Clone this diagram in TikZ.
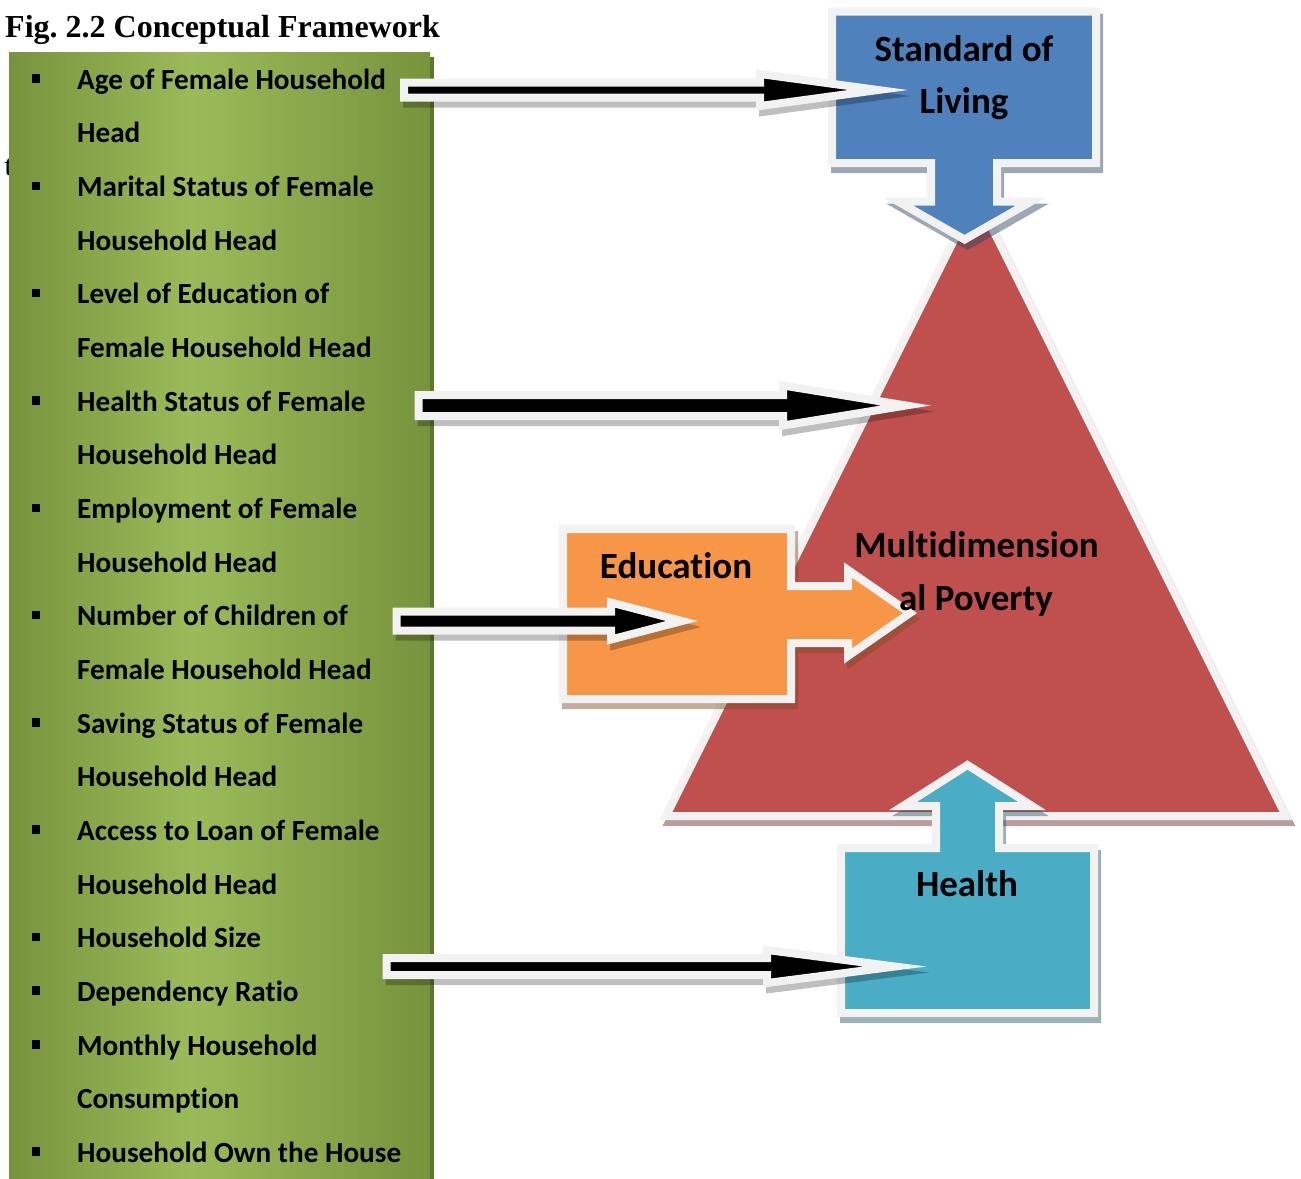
\documentclass[tikz,border=0pt]{standalone}
\usepackage{fontspec}
\setmainfont{Carlito}[Ligatures=NoCommon]
\newfontfamily\serifhead{Liberation Serif}
\usetikzlibrary{calc}
\frenchspacing

\definecolor{olivedark}{HTML}{77933C}
\definecolor{olivelight}{HTML}{9BBB59}
\definecolor{oliveshadow}{HTML}{5E7530}
\definecolor{solblue}{HTML}{4F81BD}
\definecolor{povred}{HTML}{C0504D}
\definecolor{eduorange}{HTML}{F79646}
\definecolor{healthteal}{HTML}{4BACC6}
\definecolor{rimwhite}{HTML}{F2F2F2}

\tikzset{
  rim/.style={draw=rimwhite, line width=8pt, line join=miter},
  shapeshadow/.style={transparency group, opacity=0.45, shift={(3,6)}},
  shadowpaint/.style={fill=#1!50!black, draw=#1!50!black, line width=8pt, line join=miter},
  itemtext/.style={anchor=base west, inner sep=0pt, font=\fontsize{29.2}{35}\selectfont\bfseries},
  bigtext/.style={anchor=base, inner sep=0pt, font=\fontsize{37}{44}\selectfont\bfseries},
  bulletsq/.style={fill=black, minimum size=8.5pt, inner sep=0pt},
}

% callout outlines (one unit = one point, y grows downwards)
\newcommand\trianglepath[1]{\path[#1] (976,196) -- (1286,816) -- (666,816) -- cycle;}
\newcommand\solpath[1]{\path[#1] (832,11.5) -- (1096,11.5) -- (1096,163) -- (997,163)
  -- (997,201.5) -- (1031,201.5) -- (964.5,239.5) -- (898,201.5) -- (931,201.5)
  -- (931,163) -- (832,163) -- cycle;}
\newcommand\healthpath[1]{\path[#1] (841,1013) -- (1094,1013) -- (1094,848) -- (999,848)
  -- (999,806) -- (1032,806) -- (967.5,765) -- (903,806) -- (936,806)
  -- (936,848) -- (841,848) -- cycle;}
\newcommand\edupath[1]{\path[#1] (563,529) -- (791,529) -- (791,586) -- (848,586)
  -- (848,570) -- (910,613) -- (848,656) -- (848,643) -- (791,643)
  -- (791,699) -- (563,699) -- cycle;}

% block arrow from a start coordinate to a tip coordinate
% #1 start, #2 tip, #3 shaft half height, #4 head length, #5 head half height
\newcommand\blockarrow[5]{%
  \begin{scope}[transparency group, opacity=0.25]
    \path[fill=black, draw=black, line width=8pt, line join=miter]
      let \p1=(#1), \p2=(#2) in
      (\x1+3pt,\y1+#3-6pt) -- (\x2-#4+3pt,\y1+#3-6pt) -- (\x2-#4+3pt,\y1+#5-6pt)
      -- (\x2+3pt,\y1-6pt) -- (\x2-#4+3pt,\y1-#5-6pt) -- (\x2-#4+3pt,\y1-#3-6pt)
      -- (\x1+3pt,\y1-#3-6pt) -- cycle;
  \end{scope}
  \path[fill=black, rim]
    let \p1=(#1), \p2=(#2) in
    (\x1,\y1+#3) -- (\x2-#4,\y1+#3) -- (\x2-#4,\y1+#5)
    -- (\x2,\y1) -- (\x2-#4,\y1-#5) -- (\x2-#4,\y1-#3)
    -- (\x1,\y1-#3) -- cycle;
}

\begin{document}
\begin{tikzpicture}[x=1pt, y=-1pt]
\useasboundingbox (0,0) rectangle (1301,1178);
\fill[white] (0,0) rectangle (1301,1178);

% heading and stray letter behind the panel
\node[anchor=base west, inner sep=0pt, font=\serifhead\fontsize{32}{36}\selectfont\bfseries]
  (title) at (5,37.3) {Fig. 2.2 Conceptual Framework};
\node[anchor=base west, inner sep=0pt, font=\serifhead\fontsize{29}{34}\selectfont]
  (stray) at (4.5,175) {t};

% factor panel
\fill[oliveshadow] (13,57) rectangle (434,1190);
\shade[left color=olivedark, right color=olivelight] (9,52) rectangle (192,1190);
\shade[left color=olivelight, right color=olivedark] (191.5,52) rectangle (430,1190);

\foreach \i/\txt in {0/Age of Female Household, 1/Head, 2/Marital Status of Female,
  3/Household Head, 4/Level of Education of, 5/Female Household Head,
  6/Health Status of Female, 7/Household Head, 8/Employment of Female,
  9/Household Head, 10/Number of Children of, 11/Female Household Head,
  12/Saving Status of Female, 13/Household Head, 14/Access to Loan of Female,
  15/Household Head, 16/Household Size, 17/Dependency Ratio,
  18/Monthly Household, 19/Consumption, 20/Household Own the House}
  \node[itemtext] (item\i) at (77,89.3+53.65*\i) {\txt};
\foreach \i in {0,2,4,6,8,10,12,14,16,17,18,20}
  \node[bulletsq] (bul\i) at (36,78.6+53.65*\i) {};

% poverty triangle
\begin{scope}[shapeshadow]\trianglepath{shadowpaint=povred}\end{scope}
\trianglepath{fill=povred, rim}

% standard of living callout
\begin{scope}[shapeshadow]\solpath{shadowpaint=solblue}\end{scope}
\solpath{fill=solblue, rim}

% health callout
\begin{scope}[shapeshadow]\healthpath{shadowpaint=healthteal}\end{scope}
\healthpath{fill=healthteal, rim}

% education callout
\begin{scope}[shapeshadow]\edupath{shadowpaint=eduorange}\end{scope}
\edupath{fill=eduorange, rim}

% labels
\node[bigtext] (sol1) at (964,61.5) {Standard of};
\node[bigtext] (sol2) at (964,113.5) {Living};
\node[bigtext] (edu) at (676,578) {Education};
\node[bigtext] (hea) at (967,896) {Health};
\node[bigtext] (mp1) at (976.5,557) {Multidimension};
\node[bigtext] (mp2) at (976,610) {al Poverty};

% links from the panel
\coordinate (a1s) at (404,90);      \coordinate (a1t) at (878,90);
\coordinate (a2s) at (418.5,405.5); \coordinate (a2t) at (906,405.5);
\coordinate (a3s) at (396.5,621);   \coordinate (a3t) at (682,621);
\coordinate (a4s) at (386.5,966.5); \coordinate (a4t) at (895,966.5);

\blockarrow{a1s}{a1t}{7.5pt}{118pt}{16pt}
\blockarrow{a2s}{a2t}{10.5pt}{123pt}{20pt}
\blockarrow{a3s}{a3t}{9.5pt}{71pt}{18.5pt}
\blockarrow{a4s}{a4t}{8.5pt}{128pt}{16.5pt}
\end{tikzpicture}
\end{document}
